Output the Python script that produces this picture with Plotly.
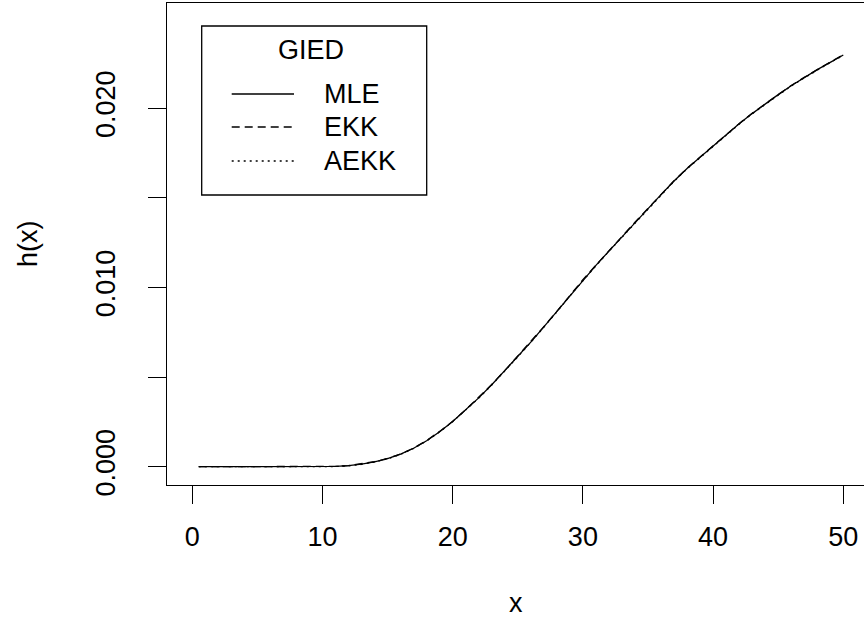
import plotly.graph_objects as go

# Estimated hazard function h(x) of the GIED model under three estimators
x_vals = [0.5, 2, 4, 6, 8, 10, 11, 12, 13, 14, 15, 16, 17, 18, 19, 20,
          21, 22, 23, 24, 25, 26, 27, 28, 29, 30, 31, 32, 33, 34, 35,
          36, 37, 38, 39, 40, 41, 42, 43, 44, 45, 46, 47, 48, 49, 50]

h_mle = [0.0, 0.0, 0.0, 0.0, 0.0, 0.0, 0.00002, 0.00006, 0.00014, 0.00027,
         0.00045, 0.00070, 0.00103, 0.00145, 0.00195, 0.00252, 0.00316,
         0.00384, 0.00457, 0.00535, 0.00614, 0.00695, 0.00780, 0.00866,
         0.00954, 0.01041, 0.01123, 0.01203, 0.01283, 0.01362, 0.01440,
         0.01518, 0.01594, 0.01664, 0.01726, 0.01789, 0.01852, 0.01913,
         0.01970, 0.02024, 0.02076, 0.02125, 0.02171, 0.02215, 0.02256,
         0.02297]

h_ekk = [0.0, 0.0, 0.0, 0.0, 0.0, 0.0, 0.00002, 0.00006, 0.00015, 0.00028,
         0.00046, 0.00071, 0.00104, 0.00146, 0.00197, 0.00253, 0.00318,
         0.00386, 0.00459, 0.00536, 0.00616, 0.00697, 0.00781, 0.00867,
         0.00956, 0.01043, 0.01124, 0.01205, 0.01284, 0.01364, 0.01441,
         0.01520, 0.01595, 0.01665, 0.01728, 0.01790, 0.01854, 0.01914,
         0.01972, 0.02025, 0.02077, 0.02127, 0.02172, 0.02216, 0.02258,
         0.02298]

h_aekk = [0.0, 0.0, 0.0, 0.0, 0.0, 0.0, 0.00001, 0.00005, 0.00013, 0.00026,
          0.00044, 0.00069, 0.00102, 0.00144, 0.00194, 0.00251, 0.00315,
          0.00383, 0.00456, 0.00533, 0.00613, 0.00694, 0.00778, 0.00864,
          0.00953, 0.01040, 0.01121, 0.01202, 0.01281, 0.01361, 0.01438,
          0.01517, 0.01592, 0.01662, 0.01725, 0.01787, 0.01851, 0.01911,
          0.01969, 0.02022, 0.02074, 0.02124, 0.02169, 0.02213, 0.02255,
          0.02295]

series_names = ["MLE", "EKK", "AEKK"]
series_dash = ["solid", "8px,5px", "2px,4px"]

x_ticks = [0, 10, 20, 30, 40, 50]
y_ticks = [0.000, 0.005, 0.010, 0.015, 0.020]
y_tick_text = ["0.000", "", "0.010", "", "0.020"]

FONT = "Liberation Sans, Arial, sans-serif"
W, H = 864, 623
L, T, B = 167, 3, 138
PW, PH = W - L, H - T - B


def px_x(p):
    return (p - L) / PW


def px_y(p):
    return (H - B - p) / PH


fig = go.Figure()
for name, ys, dash in reversed(list(zip(series_names, [h_mle, h_ekk, h_aekk], series_dash))):
    fig.add_trace(go.Scatter(x=x_vals, y=ys, mode="lines", name=name,
                             line=dict(color="black", width=1.3, dash=dash),
                             showlegend=False))

axis_common = dict(showgrid=False, zeroline=False, showline=True,
                   linecolor="black", linewidth=1.3, ticks="outside",
                   ticklen=18, tickwidth=1.3, tickcolor="black",
                   tickfont=dict(family=FONT, size=27, color="black"))

fig.update_xaxes(range=[-1.94, 51.59], tickvals=x_ticks, mirror=True,
                 ticklabelstandoff=9, **axis_common)
fig.update_yaxes(range=[-0.00102, 0.02587], tickvals=y_ticks,
                 ticktext=y_tick_text, tickangle=-90, ticklabelstandoff=22,
                 **axis_common)

annotations = [
    dict(text="h(x)", x=px_x(28), y=0.5, textangle=-90),
    dict(text="x", x=px_x(516), y=px_y(603)),
    dict(text="GIED", x=px_x(311), y=px_y(50)),
]
shapes = [
    dict(type="rect", xref="paper", yref="paper",
         x0=px_x(201.7), x1=px_x(426.7), y0=px_y(195), y1=px_y(26),
         line=dict(color="black", width=1.3), fillcolor="white", layer="above"),
]
for name, dash, yp in zip(series_names, series_dash, [94, 127, 161]):
    shapes.append(dict(type="line", xref="paper", yref="paper",
                       x0=px_x(231.7), x1=px_x(294), y0=px_y(yp), y1=px_y(yp),
                       line=dict(color="black", width=1.5, dash=dash)))
    annotations.append(dict(text=name, x=px_x(322), y=px_y(yp), xanchor="left"))

for a in annotations:
    a.setdefault("xanchor", "center")
    a.update(xref="paper", yref="paper", yanchor="middle", showarrow=False,
             font=dict(family=FONT, size=27, color="black"))

fig.update_layout(width=W, height=H, margin=dict(l=L, r=0, t=T, b=B),
                  paper_bgcolor="white", plot_bgcolor="white",
                  annotations=annotations, shapes=shapes, showlegend=False)

fig.write_html("out.html")
